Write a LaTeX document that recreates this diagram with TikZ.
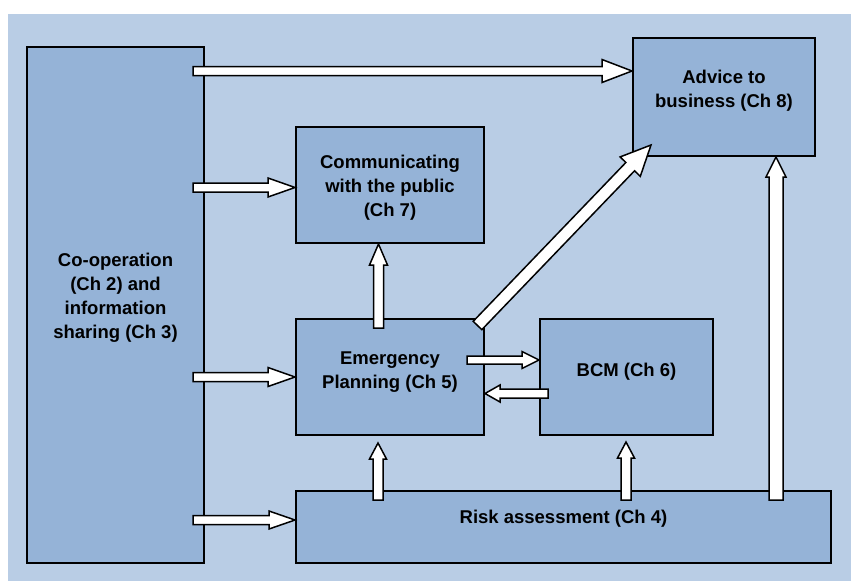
\documentclass[tikz,border=0pt]{standalone}
\usepackage{fontspec}
\setmainfont{Liberation Sans}
\usetikzlibrary{calc}
\definecolor{bgc}{HTML}{B9CDE5}
\definecolor{boxc}{HTML}{95B3D7}
% #1 start, #2 tip, #3 shaft half width, #4 head half width, #5 head length
\newcommand{\blockarrow}[5]{%
  \coordinate (hb) at ($(#2)!#5!(#1)$);
  \draw[barrow] ($(#1)!#3!90:(#2)$) -- ($(hb)!#3!90:(#2)$) -- ($(hb)!#4!90:(#2)$)
    -- (#2) -- ($(hb)!#4!-90:(#2)$) -- ($(hb)!#3!-90:(#2)$) -- ($(#1)!#3!-90:(#2)$) -- cycle;
}
\begin{document}
\begin{tikzpicture}[x=1pt,y=-1pt,
  box/.style={draw=black, line width=2pt, fill=boxc, inner sep=0pt},
  lbl/.style={align=center, font=\bfseries\fontsize{18.5}{24}\selectfont, inner sep=0pt},
  barrow/.style={draw=black, fill=white, line width=1.5pt, line join=miter}]
\useasboundingbox (0,0) rectangle (851,581);
\fill[bgc] (8,14) rectangle (851,581);
% boxes
\node[box, minimum width=177pt, minimum height=516pt] (coop) at (115.5,305) {};
\node[box, minimum width=182pt, minimum height=118pt] (adv) at (724,97) {};
\node[box, minimum width=188pt, minimum height=116pt] (comm) at (390,185) {};
\node[box, minimum width=188pt, minimum height=116pt] (emer) at (390,377) {};
\node[box, minimum width=173pt, minimum height=116pt] (bcm) at (626.5,377) {};
\node[box, minimum width=535pt, minimum height=72pt] (risk) at (563.5,527) {};
% texts
\node[lbl] (coopt) at (115.5,298) {Co-operation\\(Ch 2) and\\information\\sharing (Ch 3)};
\node[lbl] (advt) at (724,91) {Advice to\\business (Ch 8)};
\node[lbl] (commt) at (390,188) {Communicating\\with the public\\(Ch 7)};
\node[lbl] (emert) at (390,372) {Emergency\\Planning (Ch 5)};
\node[lbl] (bcmt) at (626.5,372) {BCM (Ch 6)};
\node[lbl] (riskt) at (563.5,519) {Risk assessment (Ch 4)};
% arrow end points
\coordinate (s1) at (193,71);
\coordinate (t1) at (adv.west |- s1);
\coordinate (s2) at (193,187.5);
\coordinate (t2) at (comm.west |- s2);
\coordinate (s3) at (193,377);
\coordinate (t3) at (emer.west |- s3);
\coordinate (s4) at (193,520);
\coordinate (t4) at (risk.west |- s4);
\coordinate (s5) at (378.5,328);
\coordinate (t5) at (s5 |- comm.south);
\coordinate (s6) at (477.5,325.5);
\coordinate (t6) at (651,145);
\coordinate (s7) at (467,360);
\coordinate (t7) at (bcm.west |- s7);
\coordinate (s8) at (548,393.5);
\coordinate (t8) at (emer.east |- s8);
\coordinate (s9) at (378,500);
\coordinate (t9) at (378,443);
\coordinate (s10) at (626,500);
\coordinate (t10) at (626,442);
\coordinate (s11) at (776,500);
\coordinate (t11) at (s11 |- adv.south);
% arrows
\blockarrow{s1}{t1}{4.5pt}{11.5pt}{30pt}
\blockarrow{s2}{t2}{4.5pt}{9.5pt}{27pt}
\blockarrow{s3}{t3}{4.5pt}{9.5pt}{27pt}
\blockarrow{s4}{t4}{4.5pt}{9pt}{26pt}
\blockarrow{s5}{t5}{5pt}{9pt}{21pt}
\blockarrow{s6}{t6}{6pt}{14pt}{30pt}
\blockarrow{s7}{t7}{4pt}{8.5pt}{17pt}
\blockarrow{s8}{t8}{4.5pt}{8.5pt}{15pt}
\blockarrow{s9}{t9}{5pt}{8.5pt}{16pt}
\blockarrow{s10}{t10}{5pt}{8.5pt}{16pt}
\blockarrow{s11}{t11}{7pt}{10pt}{20pt}
\end{tikzpicture}
\end{document}
